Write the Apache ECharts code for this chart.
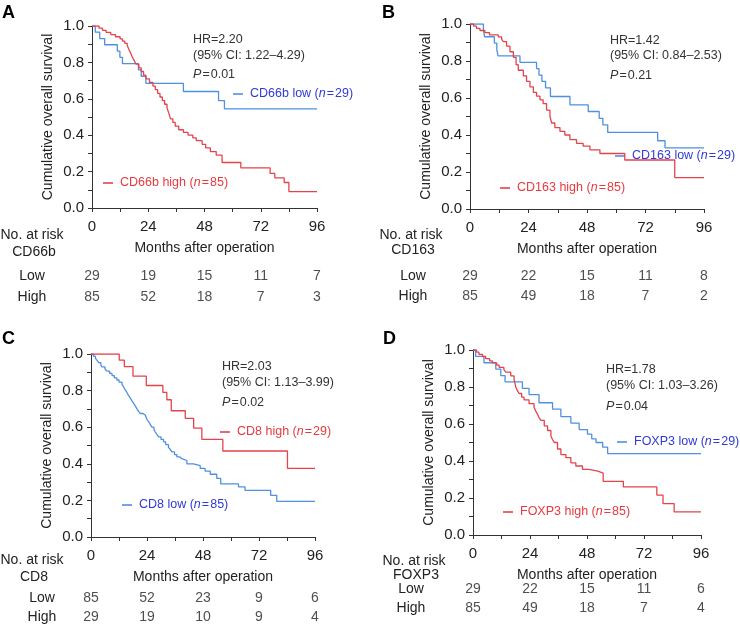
<!DOCTYPE html>
<html>
<head>
<meta charset="utf-8">
<script src="https://cdn.jsdelivr.net/npm/echarts@6/dist/echarts.min.js"></script>
<style>
  html, body { margin: 0; padding: 0; background: #fff; }
  #chart { width: 740px; height: 627px; }
</style>
</head>
<body>
<div id="chart"></div>
<script>
// KM curves, [month, survival]
const cd66bLow = [[0,1],[1.4,0.966],[3.3,0.931],[5.4,0.897],[10.8,0.862],[11.9,0.828],[13,0.793],[19.8,0.759],[21,0.724],[23,0.685],[39,0.64],[54,0.59],[56.5,0.545],[96,0.545]];
const cd66bHigh = [[0,1],[3,0.988],[4.5,0.976],[6,0.965],[8,0.953],[10,0.941],[12,0.929],[13,0.917],[14,0.905],[15,0.894],[15.8,0.87],[16.5,0.85],[17.2,0.83],[18,0.81],[18.8,0.79],[20,0.77],[21,0.75],[22,0.73],[23,0.71],[24.5,0.69],[26,0.67],[27,0.65],[28,0.63],[29,0.61],[30,0.59],[31,0.57],[32,0.55],[32.8,0.52],[33.5,0.49],[34.5,0.47],[35.5,0.45],[37,0.43],[39,0.415],[41,0.40],[43,0.385],[44.5,0.37],[47,0.35],[48.5,0.33],[50.5,0.31],[53,0.29],[55.5,0.25],[63.5,0.22],[76,0.19],[78,0.165],[82,0.14],[84,0.09],[96,0.09]];

const cd163Low = [[0,1],[5.5,0.966],[6,0.931],[10,0.897],[11,0.862],[11.5,0.828],[20.5,0.793],[27.3,0.759],[28.3,0.724],[29.5,0.69],[31,0.655],[33,0.608],[41,0.563],[48.5,0.527],[53,0.49],[54.5,0.455],[56.5,0.414],[77,0.369],[80,0.33],[96,0.33]];
const cd163High = [[0,1],[1.5,0.988],[2.7,0.976],[4.1,0.965],[6.1,0.953],[8,0.941],[11.6,0.93],[13,0.917],[13.7,0.905],[15,0.88],[16.4,0.85],[17.8,0.82],[18.9,0.78],[19.8,0.75],[21.9,0.72],[23.2,0.69],[24.6,0.66],[26,0.63],[27.3,0.61],[28.7,0.59],[30,0.57],[31.4,0.535],[32.8,0.5],[33.5,0.465],[34.8,0.44],[36.9,0.42],[38.9,0.40],[41,0.375],[43.7,0.355],[46.4,0.34],[49.2,0.32],[53.3,0.30],[63.5,0.265],[84,0.17],[96,0.17]];

const cd8Low = [[0,1],[1,0.988],[1.9,0.976],[2.6,0.965],[3.3,0.953],[4.2,0.941],[4.7,0.93],[6,0.918],[6.8,0.906],[8,0.894],[9,0.882],[10,0.87],[11.1,0.858],[12,0.846],[13.3,0.834],[14,0.82],[14.6,0.805],[15.4,0.79],[16,0.775],[16.8,0.76],[17.5,0.745],[18.3,0.73],[19,0.715],[19.7,0.70],[20.4,0.687],[21.1,0.675],[22.3,0.665],[23.3,0.655],[24,0.642],[24.7,0.63],[25.4,0.615],[26.1,0.60],[27,0.587],[27.5,0.575],[28.3,0.56],[29,0.547],[30,0.533],[31.1,0.52],[32,0.505],[33.2,0.49],[34,0.478],[34.7,0.465],[35.8,0.45],[36.8,0.438],[38,0.428],[38.9,0.418],[41.1,0.40],[43.9,0.39],[46.8,0.375],[48.9,0.36],[51.1,0.343],[53.9,0.32],[55.6,0.29],[63.2,0.274],[66,0.255],[77,0.228],[79.6,0.195],[96,0.195]];
const cd8High = [[0,1],[12.1,0.966],[14.3,0.931],[18,0.879],[23.7,0.828],[30.8,0.79],[32.5,0.75],[34.4,0.69],[40.4,0.648],[44,0.595],[47.5,0.533],[56.5,0.47],[84.2,0.375],[96,0.375]];

const foxp3Low = [[0,1],[1.1,0.966],[4.6,0.931],[9.6,0.897],[11.7,0.862],[13.5,0.828],[20.8,0.793],[23.6,0.759],[27.8,0.715],[33.5,0.68],[37,0.64],[41.2,0.605],[44.7,0.57],[48.2,0.545],[50,0.52],[51.8,0.50],[54.6,0.475],[56.7,0.44],[96,0.44]];
const foxp3High = [[0,1],[1.5,0.988],[2.5,0.976],[4,0.965],[5.3,0.953],[7,0.941],[8.2,0.93],[10,0.918],[11,0.906],[13,0.894],[13.8,0.88],[15.9,0.86],[17.3,0.84],[17.7,0.82],[18,0.80],[18.7,0.78],[19.4,0.765],[20.5,0.745],[21.5,0.73],[23.6,0.71],[25.7,0.69],[26.4,0.67],[27.1,0.655],[27.8,0.635],[28.6,0.62],[30,0.59],[31.4,0.565],[32.8,0.535],[33.5,0.515],[34.2,0.5],[35.6,0.465],[37,0.435],[39.1,0.418],[41.2,0.39],[43.3,0.373],[46.1,0.355],[48.9,0.345],[52.5,0.335],[54.8,0.29],[63.3,0.26],[77.4,0.216],[80,0.17],[84.7,0.125],[96,0.125]];

// number at risk tables
const riskMonths = [0, 24, 48, 72, 96];
const riskRows = ['Low', 'High'];
const cd66bRiskLow = [29, 19, 15, 11, 7];
const cd66bRiskHigh = [85, 52, 18, 7, 3];
const cd163RiskLow = [29, 22, 15, 11, 8];
const cd163RiskHigh = [85, 49, 18, 7, 2];
const cd8RiskLow = [85, 52, 23, 9, 6];
const cd8RiskHigh = [29, 19, 10, 9, 4];
const foxp3RiskLow = [29, 22, 15, 11, 6];
const foxp3RiskHigh = [85, 49, 18, 7, 4];

// statistics
const hrValues = ['2.20', '1.42', '2.03', '1.78'];
const ciValues = ['1.22–4.29', '0.84–2.53', '1.13–3.99', '1.03–3.26'];
const pValues = ['0.01', '0.21', '0.02', '0.04'];
const markers = ['CD66b', 'CD163', 'CD8', 'FOXP3'];
const nLow = [29, 29, 85, 29];
const nHigh = [85, 85, 29, 85];

const FONT = '"Liberation Sans", Arial, Helvetica, sans-serif';
const RED = '#e4434c';
const BLUE = '#4f90e0';
const BLUE_TEXT = '#2f3ad6';
const RED_TEXT = '#e8393f';
const TEXT = '#222';

// panel layout (pixels)
const panels = [
  { letter: 'A', low: cd66bLow, high: cd66bHigh, riskLow: cd66bRiskLow, riskHigh: cd66bRiskHigh,
    x0: 92, x1: 317, y0: 26, y1: 208, lx: 2, ly: 4,
    hrX: 193, hrY: [40, 56, 75], lowLeg: [233, 94], highLeg: [103, 183],
    atRiskCx: 32, atRiskY: 235, markerY: 252, rowCx: 32, lowY: 276, highY: 297 },
  { letter: 'B', low: cd163Low, high: cd163High, riskLow: cd163RiskLow, riskHigh: cd163RiskHigh,
    x0: 470, x1: 704, y0: 24, y1: 209, lx: 382, ly: 4,
    hrX: 610, hrY: [41, 56, 76], lowLeg: [615, 156], highLeg: [500, 188],
    atRiskCx: 411, atRiskY: 235, markerY: 250, rowCx: 413, lowY: 276, highY: 296 },
  { letter: 'C', low: cd8Low, high: cd8High, riskLow: cd8RiskLow, riskHigh: cd8RiskHigh,
    x0: 91, x1: 315, y0: 354, y1: 537, lx: 2, ly: 330,
    hrX: 222, hrY: [367, 383, 403], lowLeg: [122, 505], highLeg: [220, 432],
    atRiskCx: 32, atRiskY: 560, markerY: 577, rowCx: 42, lowY: 598, highY: 618 },
  { letter: 'D', low: foxp3Low, high: foxp3High, riskLow: foxp3RiskLow, riskHigh: foxp3RiskHigh,
    x0: 473, x1: 701, y0: 350, y1: 535, lx: 383, ly: 330,
    hrX: 606, hrY: [370, 386, 407], lowLeg: [617, 442], highLeg: [503, 512],
    atRiskCx: 414, atRiskY: 561, markerY: 575, rowCx: 411, lowY: 589, highY: 608 }
];

function txt(x, y, text, opts) {
  opts = opts || {};
  return {
    type: 'text', x: x, y: y, silent: true,
    style: Object.assign({
      text: text, fill: TEXT, fontSize: 14, fontFamily: FONT,
      align: 'left', verticalAlign: 'middle', textAlign: 'left', textVerticalAlign: 'middle'
    }, opts)
  };
}

function italicRich(size, color) {
  return { i: { fontSize: size, fontFamily: FONT, fontStyle: 'italic', fill: color },
           r: { fontSize: size, fontFamily: FONT, fill: color } };
}

function legendItem(pos, label, n, lineColor, textColor) {
  return [
    { type: 'line', silent: true,
      shape: { x1: pos[0], y1: pos[1], x2: pos[0] + 10, y2: pos[1] },
      style: { stroke: lineColor, lineWidth: 1.6 } },
    txt(pos[0] + 17, pos[1], '{r|' + label + ' (}{i|n}{r|\u200a=\u200a' + n + ')}',
      { fontSize: 12.5, fill: textColor, rich: italicRich(12.5, textColor) })
  ];
}

const grid = [], xAxis = [], yAxis = [], series = [], graphic = [];

panels.forEach(function (p, i) {
  const g = i * 2;
  const rowGap = p.highY - p.lowY;
  grid.push({ left: p.x0, top: p.y0, width: p.x1 - p.x0, height: p.y1 - p.y0 });
  grid.push({ left: p.x0, top: p.lowY - rowGap / 2, width: p.x1 - p.x0, height: rowGap * 2 });

  xAxis.push({
    gridIndex: g, type: 'value', min: 0, max: 96, interval: 24,
    name: 'Months after operation', nameLocation: 'middle', nameGap: 33,
    nameTextStyle: { fontSize: 14, fontFamily: FONT, color: TEXT },
    axisLine: { lineStyle: { color: '#333', width: 1 } },
    axisTick: { show: true, length: 4, lineStyle: { color: '#333' } },
    minorTick: { show: true, splitNumber: 2, length: 4, lineStyle: { color: '#333' } },
    axisLabel: { fontSize: 15, fontFamily: FONT, color: TEXT, margin: 11 },
    splitLine: { show: false }
  });
  xAxis.push({ gridIndex: g + 1, type: 'value', min: 0, max: 96, show: false });

  yAxis.push({
    gridIndex: g, type: 'value', min: 0, max: 1, interval: 0.2,
    name: 'Cumulative overall survival', nameLocation: 'middle', nameGap: 37,
    nameTextStyle: { fontSize: 14, fontFamily: FONT, color: TEXT },
    axisLine: { show: true, lineStyle: { color: '#333', width: 1 } },
    axisTick: { show: true, length: 4, lineStyle: { color: '#333' } },
    minorTick: { show: true, splitNumber: 2, length: 4, lineStyle: { color: '#333' } },
    axisLabel: { fontSize: 15, fontFamily: FONT, color: TEXT, margin: 8,
      formatter: function (v) { return v.toFixed(1); } },
    splitLine: { show: false }
  });
  yAxis.push({
    gridIndex: g + 1, type: 'category', data: riskRows, inverse: true,
    axisLine: { show: false }, axisTick: { show: false },
    axisLabel: { align: 'center', margin: p.x0 - p.rowCx, fontSize: 14, fontFamily: FONT, color: TEXT }
  });

  series.push({
    type: 'line', xAxisIndex: g, yAxisIndex: g, step: 'end', data: p.low,
    showSymbol: false, symbol: 'none', lineStyle: { color: BLUE, width: 1.3 }, z: 3
  });
  series.push({
    type: 'line', xAxisIndex: g, yAxisIndex: g, step: 'end', data: p.high,
    showSymbol: false, symbol: 'none', lineStyle: { color: RED, width: 1.3 }, z: 4
  });
  [[p.riskLow, 'Low'], [p.riskHigh, 'High']].forEach(function (r) {
    series.push({
      type: 'scatter', xAxisIndex: g + 1, yAxisIndex: g + 1, symbolSize: 1,
      itemStyle: { color: 'rgba(0,0,0,0)' },
      data: riskMonths.map(function (m, k) { return [m, r[1], r[0][k]]; }),
      label: { show: true, position: 'inside', fontSize: 14, fontFamily: FONT, color: TEXT,
        formatter: function (q) { return q.value[2]; } }
    });
  });

  // panel letter
  graphic.push(txt(p.lx, p.ly, p.letter, { fontSize: 18, fontWeight: 'bold', verticalAlign: 'top', textVerticalAlign: 'top', fill: '#000' }));
  // statistics
  graphic.push(txt(p.hrX, p.hrY[0], 'HR=' + hrValues[i], { fontSize: 12.5, fill: '#333' }));
  graphic.push(txt(p.hrX, p.hrY[1], '(95% CI: ' + ciValues[i] + ')', { fontSize: 12.5, fill: '#333' }));
  graphic.push(txt(p.hrX, p.hrY[2], '{i|P}{r|\u200a=\u200a' + pValues[i] + '}',
    { fontSize: 12.5, fill: '#333', rich: italicRich(12.5, '#333') }));
  // legends
  legendItem(p.lowLeg, markers[i] + ' low', nLow[i], BLUE, BLUE_TEXT).forEach(function (e) { graphic.push(e); });
  legendItem(p.highLeg, markers[i] + ' high', nHigh[i], RED, RED_TEXT).forEach(function (e) { graphic.push(e); });
  // risk table headers
  graphic.push(txt(p.atRiskCx, p.atRiskY, 'No. at risk', { align: 'center', textAlign: 'center' }));
  graphic.push(txt(p.atRiskCx + 2, p.markerY, markers[i], { align: 'center', textAlign: 'center' }));
});

const chart = echarts.init(document.getElementById('chart'), null, { renderer: 'canvas' });
chart.setOption({
  animation: false,
  backgroundColor: '#fff',
  grid: grid,
  xAxis: xAxis,
  yAxis: yAxis,
  series: series,
  graphic: graphic
});
</script>
</body>
</html>
